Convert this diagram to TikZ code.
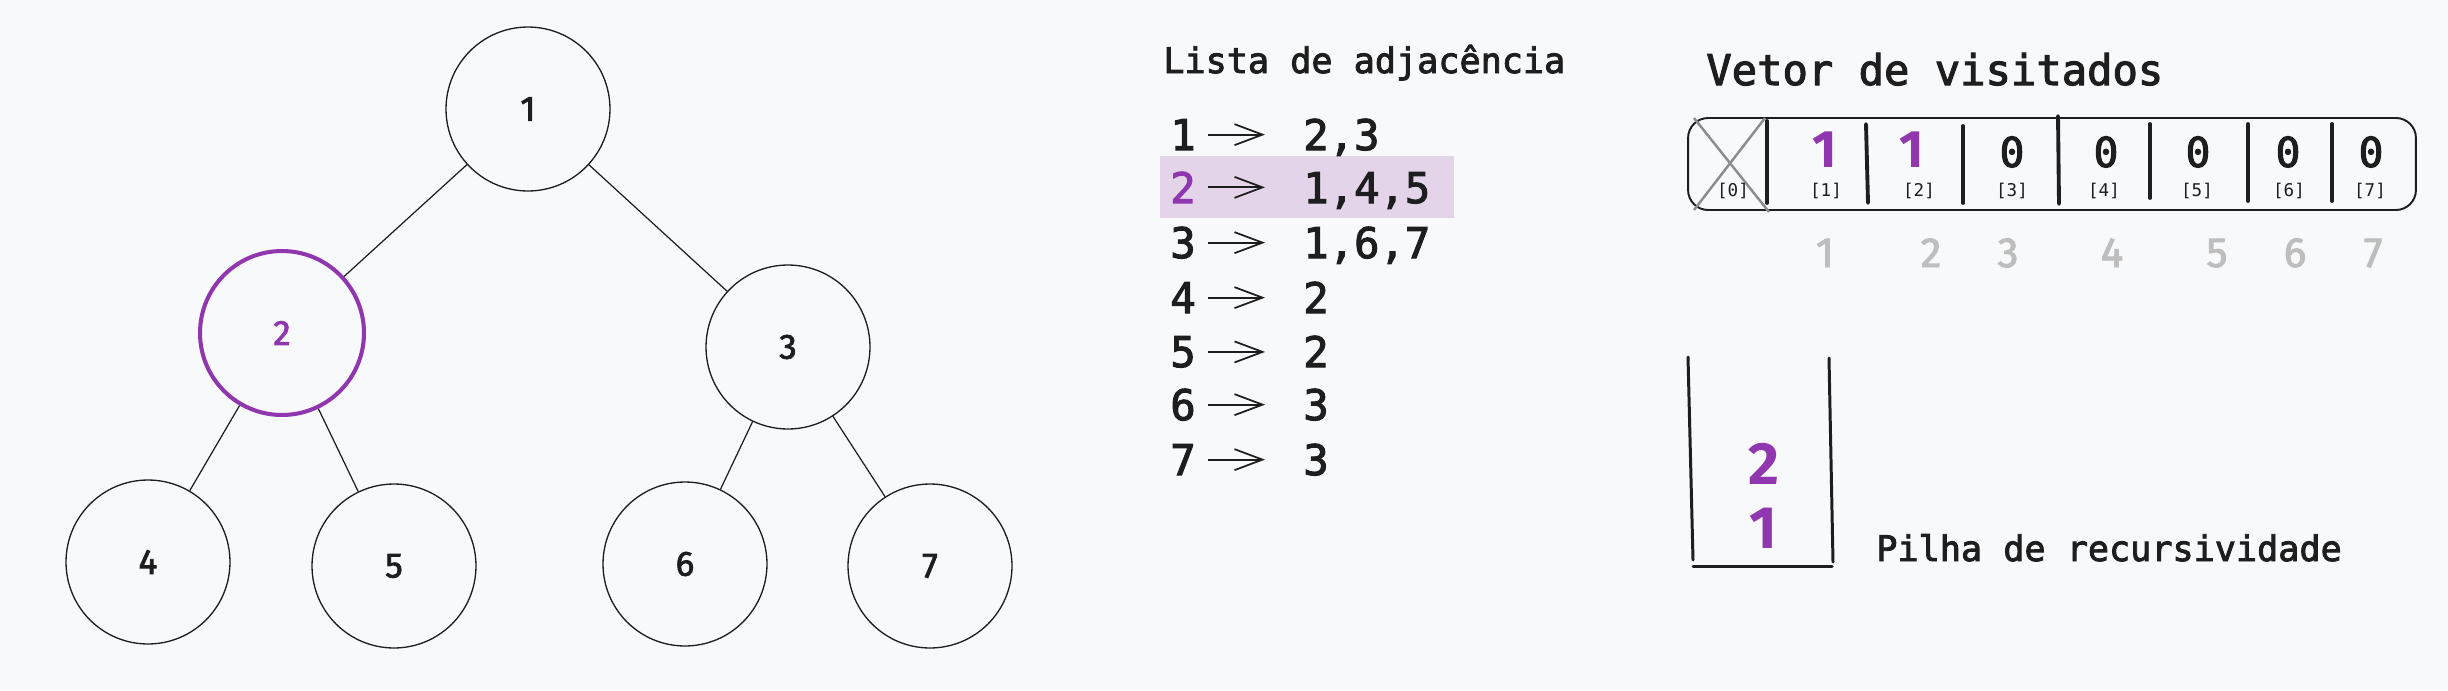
\documentclass[tikz,border=0pt]{standalone}
\usepackage{fontspec}
\setmainfont{Fira Sans}
\setmonofont{DejaVu Sans Mono}
\newfontfamily\codigo[FakeBold=2.5]{DejaVu Sans Mono}
\newfontfamily\rotulo[FakeBold=2.2]{Fira Sans}
\usepackage{tikz}
\usetikzlibrary{arrows.meta,calc,positioning}
\definecolor{fundo}{HTML}{F8F9FA}
\definecolor{tinta}{HTML}{1E1E1E}
\definecolor{roxo}{HTML}{9036AE}
\definecolor{roxoclaro}{HTML}{E3D4EA}
\definecolor{cinza}{HTML}{BEBEBE}
\definecolor{cinzax}{HTML}{8C8C8C}
\tikzset{
  vertice/.style={circle,draw=tinta,line width=0.75pt,inner sep=0pt,minimum size=3.28cm,font=\rotulo\fontsize{20}{20}\selectfont,text=tinta},
  visitado/.style={vertice,draw=roxo,line width=2.3pt,text=roxo},
  aresta/.style={draw=tinta,line width=0.7pt},
  titulo/.style={anchor=base west,inner sep=0pt,font=\codigo\fontsize{20}{20}\selectfont,text=tinta},
  titulog/.style={titulo,font=\codigo\fontsize{24}{24}\selectfont},
  item/.style={anchor=base west,inner sep=0pt,font=\codigo\fontsize{24}{24}\selectfont,text=tinta},
  seta/.style={draw=tinta,line width=1pt,shorten <=0.24cm,shorten >=0.76cm,-{Straight Barb[length=0.56cm,width=0.42cm]}},
  vetor/.style={draw=tinta,line width=1.1pt,rounded corners=0.4cm,minimum width=14.56cm,minimum height=1.84cm,inner sep=0pt},
  divisoria/.style={draw=tinta,line width=2.2pt,line cap=round},
  cruz/.style={draw=cinzax,line width=1.4pt},
  valor/.style={anchor=base,inner sep=0pt,font=\codigo\fontsize{23.5}{23.5}\selectfont,text=tinta},
  marcado/.style={anchor=base,inner sep=0pt,font=\bfseries\fontsize{30}{30}\selectfont,text=roxo},
  posicao/.style={anchor=base,inner sep=0pt,font=\ttfamily\fontsize{10}{10}\selectfont,text=tinta},
  indice/.style={anchor=base,inner sep=0pt,font=\rotulo\fontsize{24}{24}\selectfont,text=cinza},
  pilha/.style={draw=tinta,line width=1.7pt,line cap=round},
  empilhado/.style={inner sep=0pt,font=\bfseries\fontsize{34}{34}\selectfont,text=roxo},
}

\begin{document}
\begin{tikzpicture}[x=0.02cm,y=-0.02cm]
\useasboundingbox (0,0) rectangle (2448,690);
\fill[fundo] (0,0) rectangle (2448,690);
% arvore
\coordinate (c1) at (528,109);
\coordinate (c2) at (282,333);
\coordinate (c3) at (788,347);
\coordinate (c4) at (148,562);
\coordinate (c5) at (394,566);
\coordinate (c6) at (685,564);
\coordinate (c7) at (930,566);
\node[vertice] (v1) at (c1) {1};
\node[visitado] (v2) at (c2) {2};
\node[vertice] (v3) at (c3) {3};
\node[vertice] (v4) at (c4) {4};
\node[vertice] (v5) at (c5) {5};
\node[vertice] (v6) at (c6) {6};
\node[vertice] (v7) at (c7) {7};
\draw[aresta] (v1) -- (v2);
\draw[aresta] (v1) -- (v3);
\draw[aresta] (v2) -- (v4);
\draw[aresta] (v2) -- (v5);
\draw[aresta] (v3) -- (v6);
\draw[aresta] (v3) -- (v7);
% lista de adjacencia
\fill[roxoclaro] (1160,156) rectangle (1454,218);
\node[titulo] (lista) at (1163,73) {Lista de adjacência};
\node[item] (k1) at (1170,150) {1};
\node[item,text=roxo] (k2) at (1170,203) {2};
\node[item] (k3) at (1170,258) {3};
\node[item] (k4) at (1170,313) {4};
\node[item] (k5) at (1170,367) {5};
\node[item] (k6) at (1170,420) {6};
\node[item] (k7) at (1170,475) {7};
\node[item] (l1) at (1303,150) {2,3};
\node[item] (l2) at (1303,203) {1,4,5};
\node[item] (l3) at (1303,258) {1,6,7};
\node[item] (l4) at (1303,313) {2};
\node[item] (l5) at (1303,367) {2};
\node[item] (l6) at (1303,420) {3};
\node[item] (l7) at (1303,475) {3};
\draw[seta] (k1.east) -- (k1.east -| l1.west);
\draw[seta] (k2.east) -- (k2.east -| l2.west);
\draw[seta] (k3.east) -- (k3.east -| l3.west);
\draw[seta] (k4.east) -- (k4.east -| l4.west);
\draw[seta] (k5.east) -- (k5.east -| l5.west);
\draw[seta] (k6.east) -- (k6.east -| l6.west);
\draw[seta] (k7.east) -- (k7.east -| l7.west);
% vetor de visitados
\node[titulog] (vetortit) at (1706,85) {Vetor de visitados};
\node[vetor] (vet) at (2052,164) {};
\draw[cruz] (1694,118) -- (1769,212);
\draw[cruz] (1765,118) -- (1694,210);
\draw[divisoria] (1767,121) -- (1767,203);
\draw[divisoria] (1866,124) -- (1868,203);
\draw[divisoria] (1963,126) -- (1963,203);
\draw[divisoria] (2058,116) -- (2059,204);
\draw[divisoria] (2150,124) -- (2150,198);
\draw[divisoria] (2248,124) -- (2248,201);
\draw[divisoria] (2332,124) -- (2332,201);
\node[marcado] (m1) at (1825,167) {1};
\node[marcado] (m2) at (1912,167) {1};
\node[valor] (m3) at (2012,167) {0};
\node[valor] (m4) at (2106,167) {0};
\node[valor] (m5) at (2198,167) {0};
\node[valor] (m6) at (2288,167) {0};
\node[valor] (m7) at (2371,167) {0};
\node[posicao] (p0) at (1733,196) {[0]};
\node[posicao] (p1) at (1826,196) {[1]};
\node[posicao] (p2) at (1919,196) {[2]};
\node[posicao] (p3) at (2012,196) {[3]};
\node[posicao] (p4) at (2104,196) {[4]};
\node[posicao] (p5) at (2197,196) {[5]};
\node[posicao] (p6) at (2289,196) {[6]};
\node[posicao] (p7) at (2370,196) {[7]};
\node[indice] (i1) at (1825,267) {1};
\node[indice] (i2) at (1931,267) {2};
\node[indice] (i3) at (2008,267) {3};
\node[indice] (i4) at (2112,267) {4};
\node[indice] (i5) at (2217,267) {5};
\node[indice] (i6) at (2295,267) {6};
\node[indice] (i7) at (2373,267) {7};
% pilha de recursividade
\draw[pilha] (1688,357) -- (1693,560);
\draw[pilha] (1829,358) -- (1833,562);
\draw[pilha] (1693,566) -- (1832,566);
\node[empilhado] (s2) at (1764,464) {2};
\node[empilhado] (s1) at (1763,528) {1};
\node[titulo] (pilhatit) at (1876,561) {Pilha de recursividade};
\end{tikzpicture}
\end{document}
